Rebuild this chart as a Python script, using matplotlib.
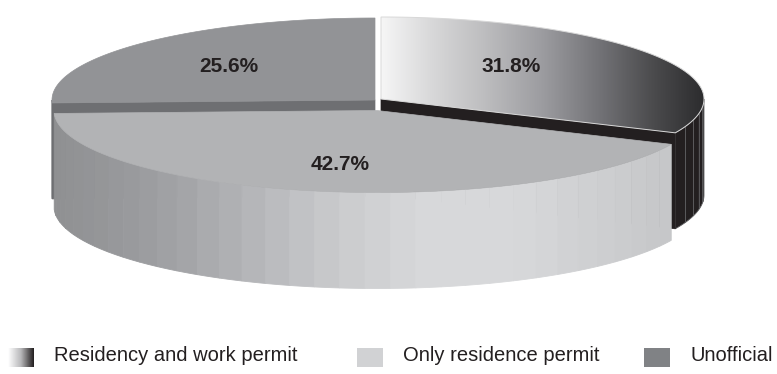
"""
Exploded 3D-style pie of residence status (three slices), drawn by hand
with polygons in pixel coordinates so the look of the original survives.
"""
import numpy as np
import matplotlib
matplotlib.use("Agg")
import matplotlib.pyplot as plt
from matplotlib.patches import Polygon, Rectangle
from matplotlib.colors import LinearSegmentedColormap

# ---- data ----
labels = ["Residency and work permit", "Only residence permit", "Unofficial"]
shares = [31.8, 42.7, 25.6]
pct_text = ["31.8%", "42.7%", "25.6%"]

# ---- layout (pixels, y down) ----
W, H = 777, 374
RX, RY, DEPTH = 323, 82, 96
centres = [(381, 99), (377, 110.5), (375, 100)]      # exploded slice apexes
label_xy = [(511, 72), (340, 170), (229, 72)]
sw_x = [8, 357, 644]
txt_x = [54, 403, 690]
SW_Y0, SW_Y1, TXT_Y = 348, 367, 361
INK = "#231f20"

top_grad = LinearSegmentedColormap.from_list(
    "top", [(0, "#f6f6f6"), (0.15, "#d9d9da"), (0.32, "#bdbdbf"), (0.5, "#9c9ca0"),
            (0.68, "#727276"), (0.84, "#4c4c4e"), (1, "#2c2c2e")])
wall_grad = LinearSegmentedColormap.from_list(
    "wall", [(0, "#8f9092"), (0.12, "#999a9d"), (0.23, "#a8a9ac"), (0.35, "#bcbdc0"),
             (0.46, "#cccdcf"), (0.57, "#d7d8da"), (0.72, "#d7d8da"), (0.85, "#cdced0"),
             (1, "#c2c3c5")])
top_col = [None, "#b2b3b5", "#929396"]
radial_col = [INK, "#9a9b9d", "#6e6f72"]
wall_col = [INK, None, "#7a7b7e"]


def ell(cx, cy, t):
    r = np.radians(t)
    return cx + RX * np.cos(r), cy - RY * np.sin(r)


frac = np.array(shares) / np.sum(shares)
starts = 90 - 360 * np.concatenate([[0], np.cumsum(frac)[:-1]])
ends = starts - 360 * frac

fig = plt.figure(figsize=(W / 100, H / 100), dpi=100)
ax = fig.add_axes([0, 0, 1, 1])
z = 1

for i in np.argsort([c[1] for c in centres]):
    cx, cy = centres[i]
    ts, te = starts[i], ends[i]

    # outer wall, front half only
    lo, hi = max(te, -180), min(ts, 0)
    if lo < hi:
        nb = 34 if wall_col[i] is None else (5 if i == 0 else 1)
        edges = np.linspace(lo, hi, nb + 1)
        for a, b in zip(edges[:-1], edges[1:]):
            t = np.linspace(a, b, 12)
            x, y = ell(cx, cy, t)
            pts = np.column_stack([np.r_[x, x[::-1]], np.r_[y, (y + DEPTH)[::-1]]])
            if wall_col[i] is None:
                xm = ell(cx, cy, (a + b) / 2)[0]
                c = wall_grad((xm - (cx - RX)) / (2 * RX))
                ax.add_patch(Polygon(pts, closed=True, fc=c, ec=c, lw=0.6, zorder=z))
            else:
                ec = "#5e5e60" if i == 0 else wall_col[i]
                ax.add_patch(Polygon(pts, closed=True, fc=wall_col[i], ec=ec, lw=0.6, zorder=z))
        z += 1

    # radial cut faces that look towards the viewer
    for ang, normal in [(ts, ts + 90), (te, te - 90)]:
        if np.sin(np.radians(normal)) < -1e-6:
            px, py = ell(cx, cy, ang)
            pts = [(cx, cy), (px, py), (px, py + DEPTH), (cx, cy + DEPTH)]
            ax.add_patch(Polygon(pts, closed=True, fc=radial_col[i], ec=radial_col[i],
                                 lw=0.5, zorder=z))
    z += 1

    # top face
    t = np.linspace(ts, te, 240)
    x, y = ell(cx, cy, t)
    pts = np.column_stack([np.r_[cx, x], np.r_[cy, y]])
    if top_col[i] is None:
        poly = Polygon(pts, closed=True, fc="none", ec="#d8d8d8", lw=0.7, zorder=z + 1)
        ax.add_patch(poly)
        im = ax.imshow(np.linspace(0, 1, 256)[None, :], cmap=top_grad, aspect="auto",
                       extent=(x.min(), x.max(), y.max(), y.min()), zorder=z)
        im.set_clip_path(poly)
    else:
        ax.add_patch(Polygon(pts, closed=True, fc=top_col[i], ec=top_col[i], lw=0.5, zorder=z))
    z += 2

for (lx, ly), s in zip(label_xy, pct_text):
    ax.text(lx, ly, s, ha="center", va="baseline", fontsize=15, fontweight="bold",
            family="Liberation Sans", color=INK, zorder=z)

# ---- legend ----
sw_col = [None, "#d1d2d4", "#808285"]
for k in range(3):
    if sw_col[k] is None:
        ax.imshow(np.linspace(0, 1, 64)[None, :],
                  cmap=LinearSegmentedColormap.from_list("sw", ["#ffffff", "#b8b8ba", INK]),
                  aspect="auto", extent=(sw_x[k], sw_x[k] + 26, SW_Y1, SW_Y0), zorder=z)
    else:
        ax.add_patch(Rectangle((sw_x[k], SW_Y0), 26, SW_Y1 - SW_Y0, fc=sw_col[k], lw=0, zorder=z))
    ax.text(txt_x[k], TXT_Y, labels[k], ha="left", va="baseline", fontsize=14.5,
            family="Liberation Sans", color=INK, zorder=z)

ax.set_xlim(0, W)
ax.set_ylim(H, 0)
ax.axis("off")
fig.savefig("out.png", dpi=100)
